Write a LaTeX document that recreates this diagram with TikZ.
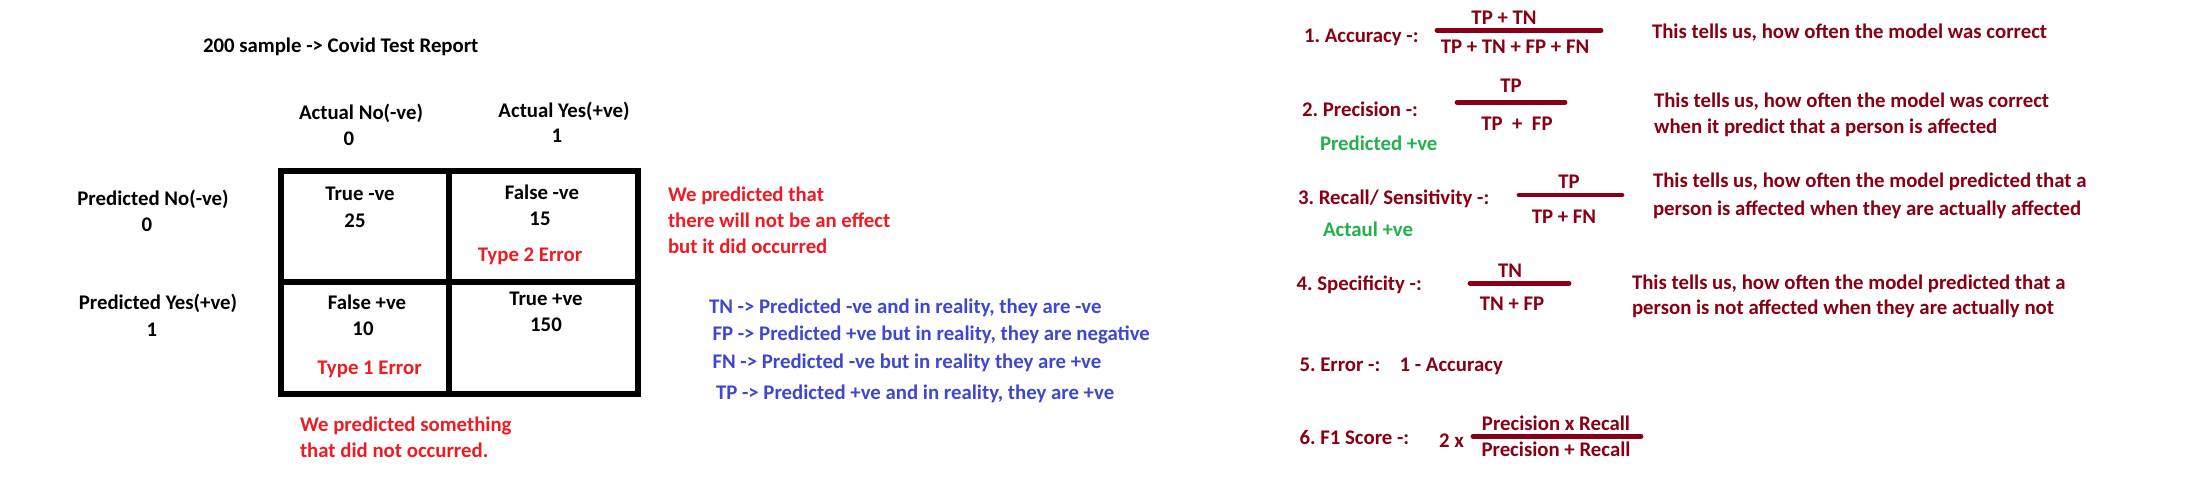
\documentclass[tikz,border=0pt]{standalone}
\usepackage{fontspec}
\setmainfont{Carlito}
\definecolor{pred}{RGB}{237,28,36}
\definecolor{pblue}{RGB}{63,72,204}
\definecolor{dred}{RGB}{136,0,21}
\definecolor{pgreen}{RGB}{34,177,76}
\frenchspacing
\begin{document}
\begin{tikzpicture}[x=0.5pt,y=-0.5pt,
  txt/.style={font=\frenchspacing\bfseries\fontsize{10.4}{12}\selectfont, inner sep=0pt, outer sep=0pt},
  bl/.style={txt, anchor=base west},
  bc/.style={txt, anchor=base},
  gridline/.style={line width=3pt},
  fbar/.style={dred, line width=2.4pt, line cap=round}]
\useasboundingbox[fill=white] (0,0) rectangle (2194,498);

\node[bl] (title) at (203,52) {200 sample -> Covid Test Report};

% header labels
\node[bc] (an) at (361,119.5) {Actual No(-ve)};
\node[bc] (an0) at (349,145.7) {0};
\node[bc] (ay) at (564,117.3) {Actual Yes(+ve)};
\node[bc] (ay1) at (557,142.7) {1};
\node[bc] (pn) at (153,205) {Predicted No(-ve)};
\node[bc] (pn0) at (147,231.7) {0};
\node[bc] (py) at (158,309.3) {Predicted Yes(+ve)};
\node[bc] (py1) at (152,336) {1};

% matrix grid
\coordinate (g1) at (281,170.5);
\coordinate (g2) at (637.5,394);
\draw[gridline] (g1) rectangle (g2);
\draw[gridline] (449,170.5) -- (449,394);
\draw[gridline] (281,281.5) -- (637.5,281.5);

% cell contents
\node[bc] (tn) at (360,200.7) {True -ve};
\node[bc] (tnv) at (355,227.7) {25};
\node[bc] (fn) at (542,199) {False -ve};
\node[bc] (fnv) at (540,225.7) {15};
\node[bc,pred] (t2) at (530,261) {Type 2 Error};
\node[bc] (fp) at (367,309.3) {False +ve};
\node[bc] (fpv) at (363,335) {10};
\node[bc,pred] (t1) at (369.5,374) {Type 1 Error};
\node[bc] (tp) at (546,305) {True +ve};
\node[bc] (tpv) at (546,331) {150};

% red notes
\node[bl,pred] (r1) at (668,201.7) {We predicted that};
\node[bl,pred] (r2) at (668,227.7) {there will not be an effect};
\node[bl,pred] (r3) at (668,253.3) {but it did occurred};
\node[bl,pred] (r4) at (300,431.7) {We predicted something};
\node[bl,pred] (r5) at (300,457.7) {that did not occurred.};

% blue definitions
\node[bl,pblue] (b1) at (709,313.3) {TN -> Predicted -ve and in reality, they are -ve};
\node[bl,pblue] (b2) at (712.5,340) {FP -> Predicted +ve but in reality, they are negative};
\node[bl,pblue] (b3) at (712.5,368.3) {FN -> Predicted -ve but in reality they are +ve};
\node[bl,pblue] (b4) at (716,399.3) {TP -> Predicted +ve and in reality, they are +ve};

% 1. accuracy
\node[bl,dred] (acc) at (1304,42.7) {1. Accuracy -:};
\node[bc,dred] (accn) at (1504,24.3) {TP + TN};
\draw[fbar] (1437,30.3) -- (1601,30.3);
\node[bc,dred] (accd) at (1515,53.3) {TP + TN + FP + FN};
\node[bl,dred] (accx) at (1652,39) {This tells us, how often the model was correct};

% 2. precision
\node[bl,dred] (pre) at (1302,116) {2. Precision -:};
\node[bc,dred] (pren) at (1511,92.7) {TP};
\draw[fbar] (1457,102.3) -- (1565,102.3);
\node[bc,dred] (pred) at (1517,130) {TP\ \ +\ \ FP};
\node[bl,pgreen] (preg) at (1320,150) {Predicted +ve};
\node[bl,dred] (prex1) at (1654,107.3) {This tells us, how often the model was correct};
\node[bl,dred] (prex2) at (1654,133.3) {when it predict that a person is affected};

% 3. recall
\node[bl,dred] (rec) at (1298,204.3) {3. Recall/ Sensitivity -:};
\node[bc,dred] (recn) at (1569,188.3) {TP};
\draw[fbar] (1519,195) -- (1622,195);
\node[bc,dred] (recd) at (1564,223.3) {TP + FN};
\node[bl,pgreen] (recg) at (1323,236.7) {Actaul +ve};
\node[bl,dred] (recx1) at (1653,187.3) {This tells us, how often the model predicted that a};
\node[bl,dred] (recx2) at (1653,215) {person is affected when they are actually affected};

% 4. specificity
\node[bl,dred] (spe) at (1296.5,290) {4. Specificity -:};
\node[bc,dred] (spen) at (1510,277.3) {TN};
\draw[fbar] (1470,283.3) -- (1569,283.3);
\node[bc,dred] (sped) at (1512,310.7) {TN + FP};
\node[bl,dred] (spex1) at (1632,289.3) {This tells us, how often the model predicted that a};
\node[bl,dred] (spex2) at (1632,314) {person is not affected when they are actually not};

% 5. error
\node[bl,dred] (err) at (1299.5,371) {5. Error -:};
\node[bl,dred] (errv) at (1399.6,371) {1 - Accuracy};

% 6. F1
\node[bl,dred] (f1) at (1299.5,444) {6. F1 Score -:};
\node[bl,dred] (f1two) at (1439,447.3) {2 x};
\node[bc,dred] (f1n) at (1556,430) {Precision x Recall};
\draw[fbar] (1473,436.2) -- (1641,436.2);
\node[bc,dred] (f1d) at (1556,456) {Precision + Recall};
\end{tikzpicture}
\end{document}
